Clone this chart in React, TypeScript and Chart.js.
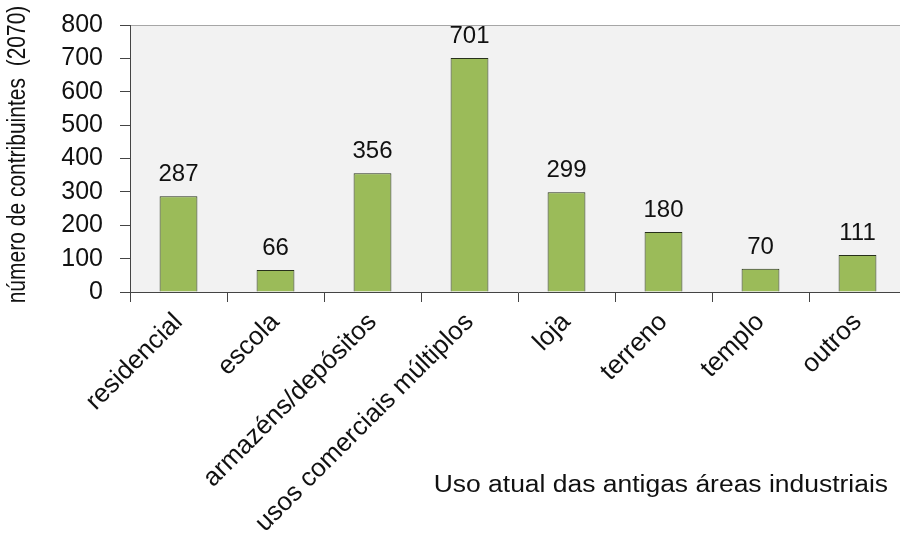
import React, { useEffect, useRef } from "react";
import { Chart, registerables } from "chart.js";

Chart.register(...registerables);

const categories = [
  "residencial",
  "escola",
  "armazéns/depósitos",
  "usos comerciais múltiplos",
  "loja",
  "terreno",
  "templo",
  "outros",
];
const values = [287, 66, 356, 701, 299, 180, 70, 111];
const yMin = 0;
const yMax = 800;
const yStep = 100;
const yTitle = "número de contribuintes  (2070)";
const xTitle = "Uso atual das antigas áreas industriais";

const FONT = '"Liberation Sans", Arial, sans-serif';
const TEXT = "#111111";

const plotBgPlugin = {
  id: "plotBg",
  beforeDraw(chart: any) {
    const { ctx, chartArea } = chart;
    ctx.save();
    ctx.fillStyle = "#f2f2f2";
    ctx.fillRect(chartArea.left, chartArea.top, chartArea.right - chartArea.left, chartArea.bottom - chartArea.top);
    ctx.strokeStyle = "#a6a6a6";
    ctx.lineWidth = 1;
    ctx.beginPath();
    ctx.moveTo(chartArea.left, chartArea.top + 0.5);
    ctx.lineTo(chartArea.right, chartArea.top + 0.5);
    ctx.stroke();
    ctx.restore();
  },
};

const dataLabelPlugin = {
  id: "dataLabels",
  afterDatasetsDraw(chart: any) {
    const { ctx } = chart;
    const meta = chart.getDatasetMeta(0);
    const data = chart.data.datasets[0].data;
    ctx.save();
    ctx.fillStyle = TEXT;
    ctx.font = `24px ${FONT}`;
    ctx.textAlign = "center";
    ctx.textBaseline = "alphabetic";
    meta.data.forEach((bar: any, i: number) => {
      ctx.fillText(String(data[i]), bar.x, bar.y - 15);
    });
    ctx.restore();
  },
};

const axisTitlesPlugin = {
  id: "axisTitles",
  afterDraw(chart: any) {
    const { ctx, chartArea } = chart;
    ctx.save();
    ctx.fillStyle = TEXT;
    ctx.font = `23px ${FONT}`;
    ctx.textAlign = "right";
    ctx.textBaseline = "alphabetic";
    ctx.translate(chartArea.right - 18, chartArea.bottom + 200);
    ctx.scale(1.15, 1);
    ctx.fillText(xTitle, 0, 0);
    ctx.restore();

    ctx.save();
    ctx.fillStyle = TEXT;
    ctx.font = `21px ${FONT}`;
    ctx.textAlign = "center";
    ctx.textBaseline = "middle";
    ctx.translate(18, (chartArea.top + chartArea.bottom) / 2 - 4);
    ctx.rotate(-Math.PI / 2);
    ctx.scale(1, 1.2);
    ctx.fillText(yTitle, 0, 0);
    ctx.restore();
  },
};

export default function App() {
  const canvasRef = useRef<HTMLCanvasElement | null>(null);

  useEffect(() => {
    if (!canvasRef.current) return;
    const chart = new Chart(canvasRef.current, {
      type: "bar",
      data: {
        labels: categories,
        datasets: [
          {
            data: values,
            backgroundColor: "#9bbb59",
            borderColor: "#27301b",
            borderWidth: 1,
            barPercentage: 0.39,
            categoryPercentage: 1,
          },
        ],
      },
      options: {
        responsive: false,
        animation: false,
        layout: { padding: { top: 25, right: 0, bottom: 0, left: 0 } },
        plugins: {
          legend: { display: false },
          tooltip: { enabled: false },
          title: { display: false },
        },
        scales: {
          x: {
            offset: true,
            grid: {
              offset: true,
              drawOnChartArea: false,
              drawTicks: true,
              tickLength: 10,
              color: "#444444",
            },
            border: { display: true, color: "#444444", width: 1 },
            ticks: {
              autoSkip: false,
              maxRotation: 45,
              minRotation: 45,
              padding: 5,
              color: TEXT,
              font: { family: FONT, size: 26 },
            },
            afterFit(scale: any) {
              scale.height = 250;
            },
          },
          y: {
            min: yMin,
            max: yMax,
            ticks: {
              stepSize: yStep,
              autoSkip: false,
              padding: 17,
              color: TEXT,
              font: { family: FONT, size: 25 },
            },
            grid: {
              drawOnChartArea: false,
              drawTicks: true,
              tickLength: 10,
              color: "#444444",
            },
            border: { display: true, color: "#444444", width: 1 },
            title: { display: false },
            afterFit(scale: any) {
              scale.width = 130;
              scale.paddingTop = 0;
              scale.paddingBottom = 0;
            },
          },
        },
      },
      plugins: [plotBgPlugin, dataLabelPlugin, axisTitlesPlugin],
    });
    return () => chart.destroy();
  }, []);

  return (
    <div
      style={{
        position: "fixed",
        left: 0,
        top: 0,
        width: 900,
        height: 542,
        overflow: "hidden",
        background: "#ffffff",
      }}
    >
      <canvas ref={canvasRef} width={906} height={542} style={{ display: "block" }} />
    </div>
  );
}
